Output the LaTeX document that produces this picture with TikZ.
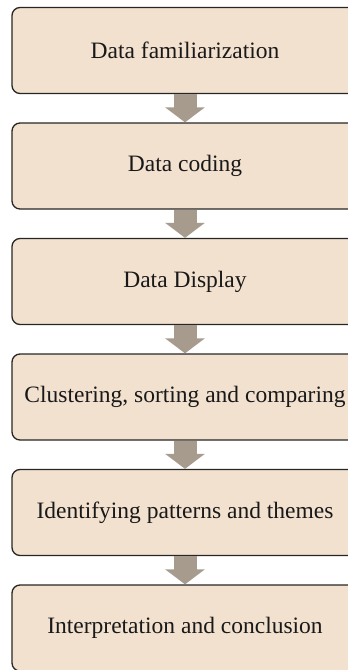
\documentclass[tikz,border=0pt]{standalone}
\usepackage{fontspec}
\setmainfont{Liberation Serif}
\usetikzlibrary{positioning,arrows.meta}
\definecolor{stepfill}{HTML}{F3E1CF}
\definecolor{flowgrey}{HTML}{A69B8D}
\tikzset{
  stage/.style ={draw=black!85, fill=stepfill, rounded corners=8pt, line width=1.3pt,
                 minimum height=86pt, minimum width=346pt, align=center,
                 font=\fontsize{23.5}{27}\selectfont, text=black!90},
  fl/.style    ={-{Triangle[width=39pt,length=15pt]}, line width=23pt, draw=flowgrey}
}

\begin{document}
\begin{tikzpicture}[x=1pt,y=1pt,node distance=28.2pt]
  \clip (0,0) rectangle (348,-670);
  \node[stage] (fam) at (185,-50.5) {Data familiarization};
  \node[stage, below=of fam] (cod) {Data coding};
  \node[stage, below=of cod] (disp) {Data Display};
  \node[stage, below=of disp] (clus) {Clustering, sorting and comparing};
  \node[stage, below=of clus] (pat) {Identifying patterns and themes};
  \node[stage, below=of pat] (interp) {Interpretation and conclusion};

  % downward flow
  \draw[fl] (fam) -- (cod);
  \draw[fl] (cod) -- (disp);
  \draw[fl] (disp) -- (clus);
  \draw[fl] (clus) -- (pat);
  \draw[fl] (pat) -- (interp);
\end{tikzpicture}
\end{document}
